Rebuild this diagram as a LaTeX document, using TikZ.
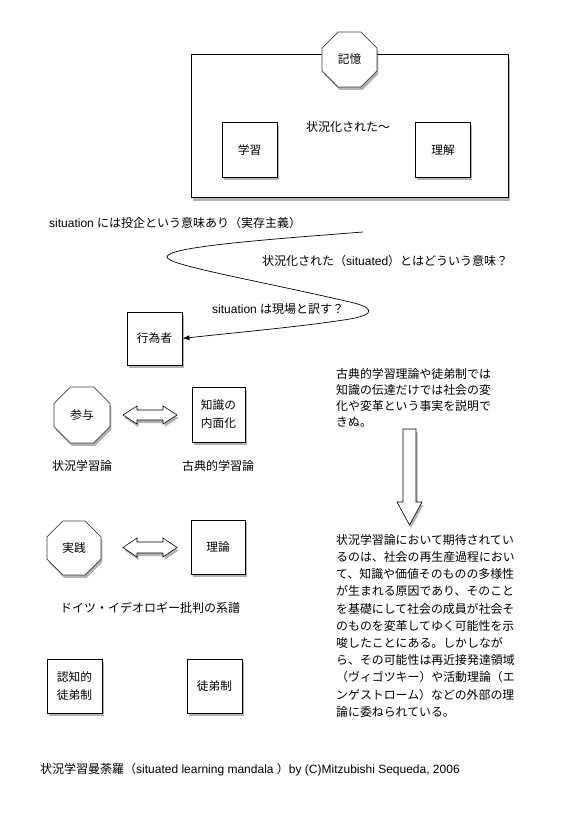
\documentclass[tikz,border=0pt]{standalone}
\usepackage{fontspec}
\setmainfont{Noto Sans CJK JP}
\newfontfamily\lat{Liberation Sans}
\usetikzlibrary{shapes.geometric,shadows,arrows.meta}
\begin{document}
\begin{tikzpicture}[x=1pt,y=-1pt,
  every node/.style={font=\fontsize{12}{14}\selectfont},
  shad/.style={drop shadow={shadow xshift=1.5pt,shadow yshift=-3pt,fill=black,opacity=0.3}},
  sqbox/.style={draw,line width=0.8pt,fill=white,minimum width=55pt,minimum height=55pt,inner sep=0pt,shad,align=center,font=\fontsize{11.7}{18}\selectfont},
  octo/.style={draw=black!75,line width=0.8pt,fill=white,regular polygon,regular polygon sides=8,inner sep=0pt,shad,font=\fontsize{11.7}{14}\selectfont},
  txt/.style={inner sep=0pt},
  para/.style={inner sep=0pt,anchor=north west,align=left},
  bigarrow/.style={draw,line width=0.6pt,fill=white,shad}
]
\useasboundingbox (0,0) rectangle (563,813);

% top frame
\node (frame) [draw,line width=0.8pt,fill=white,minimum width=317pt,minimum height=143pt,inner sep=0pt,
  drop shadow={shadow xshift=2pt,shadow yshift=-4pt,fill=black,opacity=0.3}] at (349.5,125.5) {};
\node (sit) [txt] at (348,127) {状況化された〜};
\node (gakushu) [sqbox] at (249.5,150) {学習};
\node (rikai) [sqbox] at (443,150) {理解};
\node (kioku) [octo,minimum size=59.5pt] at (349.5,59.5) {記憶};

% texts along the curve
\node (t1) [txt,anchor=west] at (49,223) {{\lat situation }には投企という意味あり（実存主義）};
\node (t2) [txt,anchor=west] at (262,261) {状況化された（{\lat situated}）とはどういう意味？};
\node (t3) [txt,anchor=west] at (212,309) {{\lat situation }は現場と訳す？};

% actor
\node (actor) [sqbox,minimum height=53pt] at (154.5,338.5) {行為者};
\coordinate (cstart) at (363,232);
\coordinate (cleft) at (167,257);
\coordinate (cmid) at (350,302);
\coordinate (cright) at (350,319);
\draw[line width=0.7pt,-{Latex[length=7pt,width=5pt]}]
  (cstart) .. controls (260,240) and (167,247) .. (cleft)
  .. controls (167,265) and (250,279) .. (cmid)
  .. controls (372,307) and (378,314) .. (cright)
  .. controls (300,327) and (230,333) .. (actor.east);

% row 1
\node (sanyo) [octo,minimum size=60.6pt] at (82,415) {参与};
\node (naimen) [sqbox,minimum width=53pt] at (218.5,414.5) {知識の\\内面化};
\draw[bigarrow,shift={(150,415)}] (-27,0) -- (-13,-9) -- (-13,-5) -- (13,-5) -- (13,-9) -- (27,0)
  -- (13,9) -- (13,5) -- (-13,5) -- (-13,9) -- cycle;
\node (l1) [txt] at (82,466) {状況学習論};
\node (l2) [txt] at (218,466) {古典的学習論};

% row 2
\node (jissen) [octo,minimum size=58.4pt] at (74,548) {実践};
\node (riron) [sqbox,minimum width=54pt,minimum height=54pt] at (218,547) {理論};
\draw[bigarrow,shift={(150,547.5)}] (-27,0) -- (-13,-9.5) -- (-13,-5.5) -- (13,-5.5) -- (13,-9.5) -- (27,0)
  -- (13,9.5) -- (13,5.5) -- (-13,5.5) -- (-13,9.5) -- cycle;
\node (l3) [txt] at (150,608) {ドイツ・イデオロギー批判の系譜};

% row 3
\node (ninchi) [sqbox,minimum height=54pt] at (74.5,686) {認知的\\徒弟制};
\node (totei) [sqbox,minimum height=54pt] at (214.5,686) {徒弟制};

% right side
\node (p1) [para,font=\fontsize{11.9}{16}\selectfont] at (336,368) {古典的学習理論や徒弟制では\\知識の伝達だけでは社会の変\\化や変革という事実を説明で\\きぬ。};
\draw[bigarrow] (403,429) -- (416,429) -- (416,502) -- (422,502) -- (409.5,525) -- (397,502) -- (403,502) -- cycle;
\node (p2) [para,font=\fontsize{11.9}{17.2}\selectfont] at (336,534) {状況学習論において期待されてい\\るのは、社会の再生産過程におい\\て、知識や価値そのものの多様性\\が生まれる原因であり、そのこと\\を基礎にして社会の成員が社会そ\\のものを変革してゆく可能性を示\\唆したことにある。しかしなが\\ら、その可能性は再近接発達領域\\（ヴィゴツキー）や活動理論（エ\\ンゲストローム）などの外部の理\\論に委ねられている。};

% footer
\node (foot) [txt,anchor=west] at (40,770) {状況学習曼荼羅（{\lat situated learning mandala }）{\lat by (C)Mitzubishi Sequeda, 2006}};
\end{tikzpicture}
\end{document}
